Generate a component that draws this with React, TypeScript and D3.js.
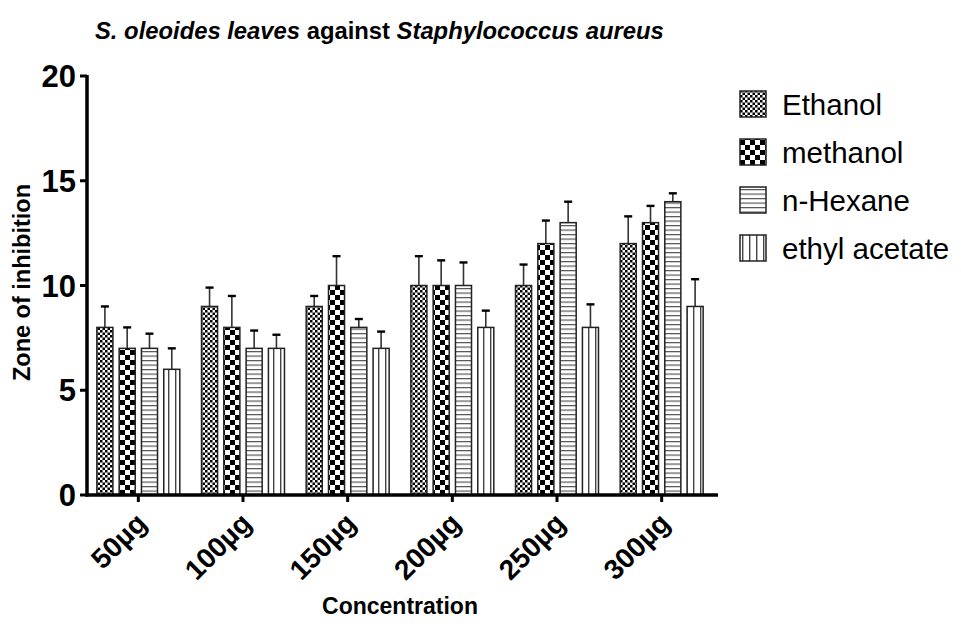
import React from "react";
import * as d3 from "d3";

// Concentrations tested (x categories)
const categories = ["50µg", "100µg", "150µg", "200µg", "250µg", "300µg"];
// Extraction solvents (series)
const seriesNames = ["Ethanol", "methanol", "n-Hexane", "ethyl acetate"];

// Mean zone of inhibition per solvent
const ethanolMean = [8, 9, 9, 10, 10, 12];
const methanolMean = [7, 8, 10, 10, 12, 13];
const hexaneMean = [7, 7, 8, 10, 13, 14];
const ethylMean = [6, 7, 7, 8, 8, 9];

// Standard deviation (upper error bar) per solvent
const ethanolErr = [1.0, 0.9, 0.5, 1.4, 1.0, 1.3];
const methanolErr = [1.0, 1.5, 1.4, 1.2, 1.1, 0.8];
const hexaneErr = [0.7, 0.85, 0.4, 1.1, 1.0, 0.4];
const ethylErr = [1.0, 0.65, 0.8, 0.8, 1.1, 1.3];

const yTicks = [0, 5, 10, 15, 20];

const means = [ethanolMean, methanolMean, hexaneMean, ethylMean];
const errs = [ethanolErr, methanolErr, hexaneErr, ethylErr];
const patternIds = ["pEthanol", "pMethanol", "pHexane", "pEthyl"];

const FONT = "'Liberation Sans', Arial, Helvetica, sans-serif";

export default function App() {
  const width = 961;
  const height = 624;
  const axisX = 87;
  const axisY = 495;

  const y = d3.scaleLinear().domain([0, 20]).range([495, 76]);
  const x0 = d3.scaleBand<string>().domain(categories).range([86, 714]).padding(0);
  const groupW = 89.2;
  const x1 = d3
    .scaleBand<string>()
    .domain(seriesNames)
    .range([0, groupW])
    .paddingInner(0.28)
    .paddingOuter(0.14);

  const bars: React.ReactNode[] = [];
  categories.forEach((cat, ci) => {
    const c = (x0(cat) as number) + x0.bandwidth() / 2;
    const gx = c - groupW / 2;
    seriesNames.forEach((s, si) => {
      const v = means[si][ci];
      const e = errs[si][ci];
      const bx = gx + (x1(s) as number);
      const bw = x1.bandwidth();
      const cx = bx + bw / 2;
      bars.push(
        <g key={`${cat}-${s}`}>
          <line x1={cx} x2={cx} y1={y(v)} y2={y(v + e)} stroke="#333" strokeWidth={1.6} />
          <line x1={cx - 4} x2={cx + 4} y1={y(v + e)} y2={y(v + e)} stroke="#000" strokeWidth={2.4} />
          <rect
            x={bx}
            y={y(v)}
            width={bw}
            height={y(0) - y(v)}
            fill={`url(#${patternIds[si]})`}
            stroke="#222"
            strokeWidth={1.5}
          />
        </g>
      );
    });
  });

  const legendX = 740;
  const legendY0 = 104;
  const legendStep = 48;
  const patch = 26;

  return (
    <svg
      width={width}
      height={height}
      style={{ position: "absolute", left: 0, top: 0, background: "#fff" }}
      fontFamily={FONT}
    >
      <defs>
        <pattern id="pEthanol" patternUnits="userSpaceOnUse" width={5} height={5}>
          <rect width={5} height={5} fill="#fff" />
          <rect x={0} y={0} width={2.5} height={2.5} fill="#000" />
          <rect x={2.5} y={2.5} width={2.5} height={2.5} fill="#000" />
        </pattern>
        <pattern id="pMethanol" patternUnits="userSpaceOnUse" width={10} height={10}>
          <rect width={10} height={10} fill="#fff" />
          <rect x={0} y={0} width={5} height={5} fill="#000" />
          <rect x={5} y={5} width={5} height={5} fill="#000" />
        </pattern>
        <pattern id="pHexane" patternUnits="userSpaceOnUse" width={10} height={4.5}>
          <rect width={10} height={4.5} fill="#fff" />
          <rect x={0} y={0} width={10} height={1.2} fill="#555" />
        </pattern>
        <pattern id="pEthyl" patternUnits="userSpaceOnUse" width={7} height={10}>
          <rect width={7} height={10} fill="#fff" />
          <rect x={0} y={0} width={1.4} height={10} fill="#444" />
        </pattern>
      </defs>

      {/* title */}
      <text x={95} y={39} fontSize={23.8} fontWeight="bold">
        <tspan fontStyle="italic">S. oleoides leaves</tspan>
        <tspan> against </tspan>
        <tspan fontStyle="italic">Staphylococcus aureus</tspan>
      </text>

      {bars}

      {/* y axis */}
      <line x1={axisX} x2={axisX} y1={y(20) - 1} y2={axisY + 1.5} stroke="#000" strokeWidth={3.5} />
      {yTicks.map((t) => (
        <g key={t}>
          <line x1={axisX - 7} x2={axisX} y1={y(t)} y2={y(t)} stroke="#000" strokeWidth={3} />
          <text
            x={axisX - 11}
            y={y(t)}
            dy="0.36em"
            textAnchor="end"
            fontSize={31}
            fontWeight="bold"
          >
            {t}
          </text>
        </g>
      ))}

      {/* x axis */}
      <line x1={axisX - 1.5} x2={718} y1={axisY} y2={axisY} stroke="#000" strokeWidth={3.5} />
      {categories.map((cat) => {
        const c = (x0(cat) as number) + x0.bandwidth() / 2;
        return (
          <g key={cat}>
            <line x1={c} x2={c} y1={axisY} y2={axisY + 7} stroke="#000" strokeWidth={3} />
            <text
              transform={`translate(${c + 10},${axisY + 30}) rotate(-45)`}
              textAnchor="end"
              fontSize={28}
              fontWeight="bold"
            >
              {cat}
            </text>
          </g>
        );
      })}

      {/* axis titles */}
      <text x={400} y={614} textAnchor="middle" fontSize={23} fontWeight="bold">
        Concentration
      </text>
      <text
        transform={`translate(30,${(y(0) + y(20)) / 2 - 3}) rotate(-90)`}
        textAnchor="middle"
        fontSize={23.5}
        fontWeight="bold"
      >
        Zone of inhibition
      </text>

      {/* legend */}
      {seriesNames.map((s, i) => {
        const cy = legendY0 + i * legendStep;
        return (
          <g key={s}>
            <rect
              x={legendX}
              y={cy - patch / 2}
              width={patch}
              height={patch}
              fill={`url(#${patternIds[i]})`}
              stroke="#222"
              strokeWidth={1.5}
            />
            <text x={legendX + 42} y={cy} dy="0.36em" fontSize={29.5}>
              {s}
            </text>
          </g>
        );
      })}
    </svg>
  );
}
